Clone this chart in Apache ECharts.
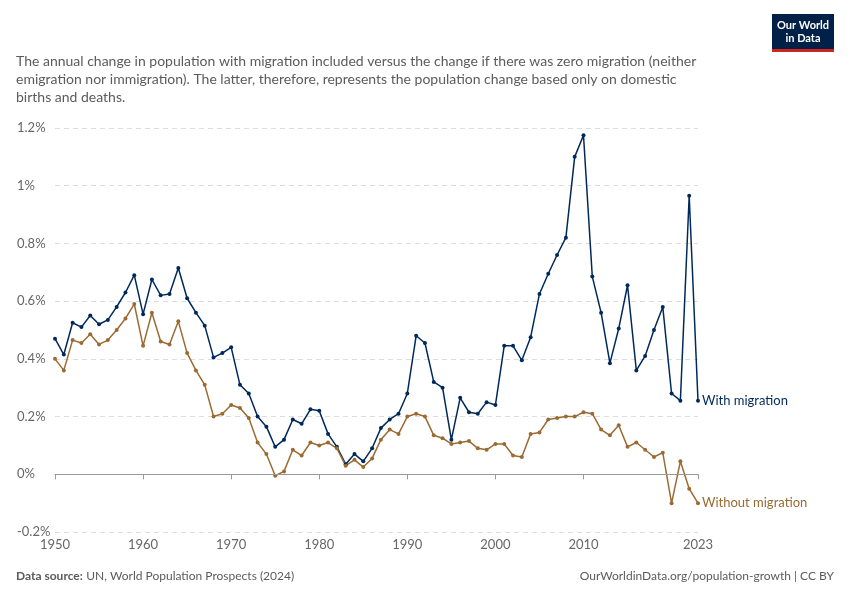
<!DOCTYPE html>
<html><head><meta charset="utf-8">
<script src="https://cdn.jsdelivr.net/npm/echarts@6/dist/echarts.min.js"></script>
<style>body{margin:0;background:#fff}#c{width:850px;height:600px}</style>
</head><body><div id="c"></div>
<script>
const years = [];
for (let y = 1950; y <= 2023; y++) years.push(y);
const withMigration = [.47,.415,.525,.51,.55,.52,.535,.58,.63,.69,.555,.675,.62,.625,.715,.61,.56,.515,.405,.42,.44,.31,.28,.20,.165,.095,.12,.19,.175,.225,.22,.14,.095,.035,.07,.045,.09,.16,.19,.21,.28,.48,.455,.32,.30,.12,.265,.215,.21,.25,.24,.445,.445,.395,.475,.625,.695,.76,.82,1.10,1.175,.685,.56,.385,.505,.655,.36,.41,.50,.58,.28,.255,.965,.255];
const withoutMigration = [.40,.36,.465,.455,.485,.45,.465,.50,.54,.59,.445,.56,.46,.45,.53,.42,.36,.31,.20,.21,.24,.23,.195,.11,.07,-.005,.01,.085,.065,.11,.10,.11,.09,.03,.05,.025,.055,.12,.155,.14,.20,.21,.20,.135,.125,.105,.11,.115,.09,.085,.105,.105,.065,.06,.14,.145,.19,.195,.20,.20,.215,.21,.155,.135,.17,.095,.11,.085,.06,.075,-.10,.045,-.05,-.10];
const xTicks = [1950,1960,1970,1980,1990,2000,2010,2023];
const font = 'Lato, "Noto Sans", sans-serif';
const chart = echarts.init(document.getElementById('c'));
function ser(name, data, color) {
  return {
    name, type: 'line', data: years.map((y, i) => [y, data[i]]),
    symbol: 'circle', symbolSize: 4, lineStyle: {width: 1.5, color}, itemStyle: {color},
    endLabel: {show: true, formatter: name, color, fontFamily: font, fontSize: 13, distance: 4}
  };
}
chart.setOption({
  animation: false,
  textStyle: {fontFamily: font},
  graphic: [
    {type: 'text', left: 16, top: 52, style: {text: 'The annual change in population with migration included versus the change if there was zero migration (neither\nemigration nor immigration). The latter, therefore, represents the population change based only on domestic\nbirths and deaths.', fill: '#5b5b5b', font: '14px ' + font, lineHeight: 18}},
    {type: 'rect', shape: {x: 772, y: 14, width: 62, height: 36}, style: {fill: '#002147'}},
    {type: 'rect', shape: {x: 772, y: 49, width: 62, height: 3}, style: {fill: '#ce261e'}},
    {type: 'text', style: {x: 803, y: 19, text: 'Our World\nin Data', fill: '#fff', font: 'bold 11px ' + font, lineHeight: 13, align: 'center', verticalAlign: 'top'}},
    {type: 'text', left: 16, top: 570, style: {rich: {b: {fill: '#5b5b5b', font: 'bold 12px ' + font}, n: {fill: '#5b5b5b', font: '12px ' + font}}, text: '{b|Data source:} {n|UN, World Population Prospects (2024)}'}},
    {type: 'text', right: 16, top: 570, style: {text: 'OurWorldinData.org/population-growth | CC BY', fill: '#5b5b5b', font: '12px ' + font, align: 'right'}}
  ],
  grid: {left: 55, right: 152, top: 128, bottom: 68, containLabel: false},
  xAxis: {
    type: 'value', min: 1950, max: 2023,
    axisLine: {show: true, lineStyle: {color: '#999'}}, axisTick: {show: true, customValues: xTicks, length: 5, lineStyle: {color: '#999'}},
    axisLabel: {customValues: xTicks, color: '#666', fontSize: 13, formatter: v => String(v), margin: 6},
    splitLine: {show: false}
  },
  yAxis: {
    type: 'value', min: -0.2, max: 1.2, interval: 0.2,
    axisLabel: {color: '#666', fontSize: 13, formatter: v => (Math.round(v * 10) / 10) + '%', margin: 38, align: 'left'},
    axisLine: {show: false}, axisTick: {show: false},
    splitLine: {lineStyle: {type: [5, 4], color: '#ddd'}}
  },
  series: [
    ser('With migration', withMigration, '#00295b'),
    Object.assign(ser('Without migration', withoutMigration, '#9a6b33'), {
      markLine: {silent: true, symbol: 'none', label: {show: false}, lineStyle: {color: '#999', type: 'solid', width: 1}, data: [{yAxis: 0}]}
    })
  ]
});
</script></body></html>
